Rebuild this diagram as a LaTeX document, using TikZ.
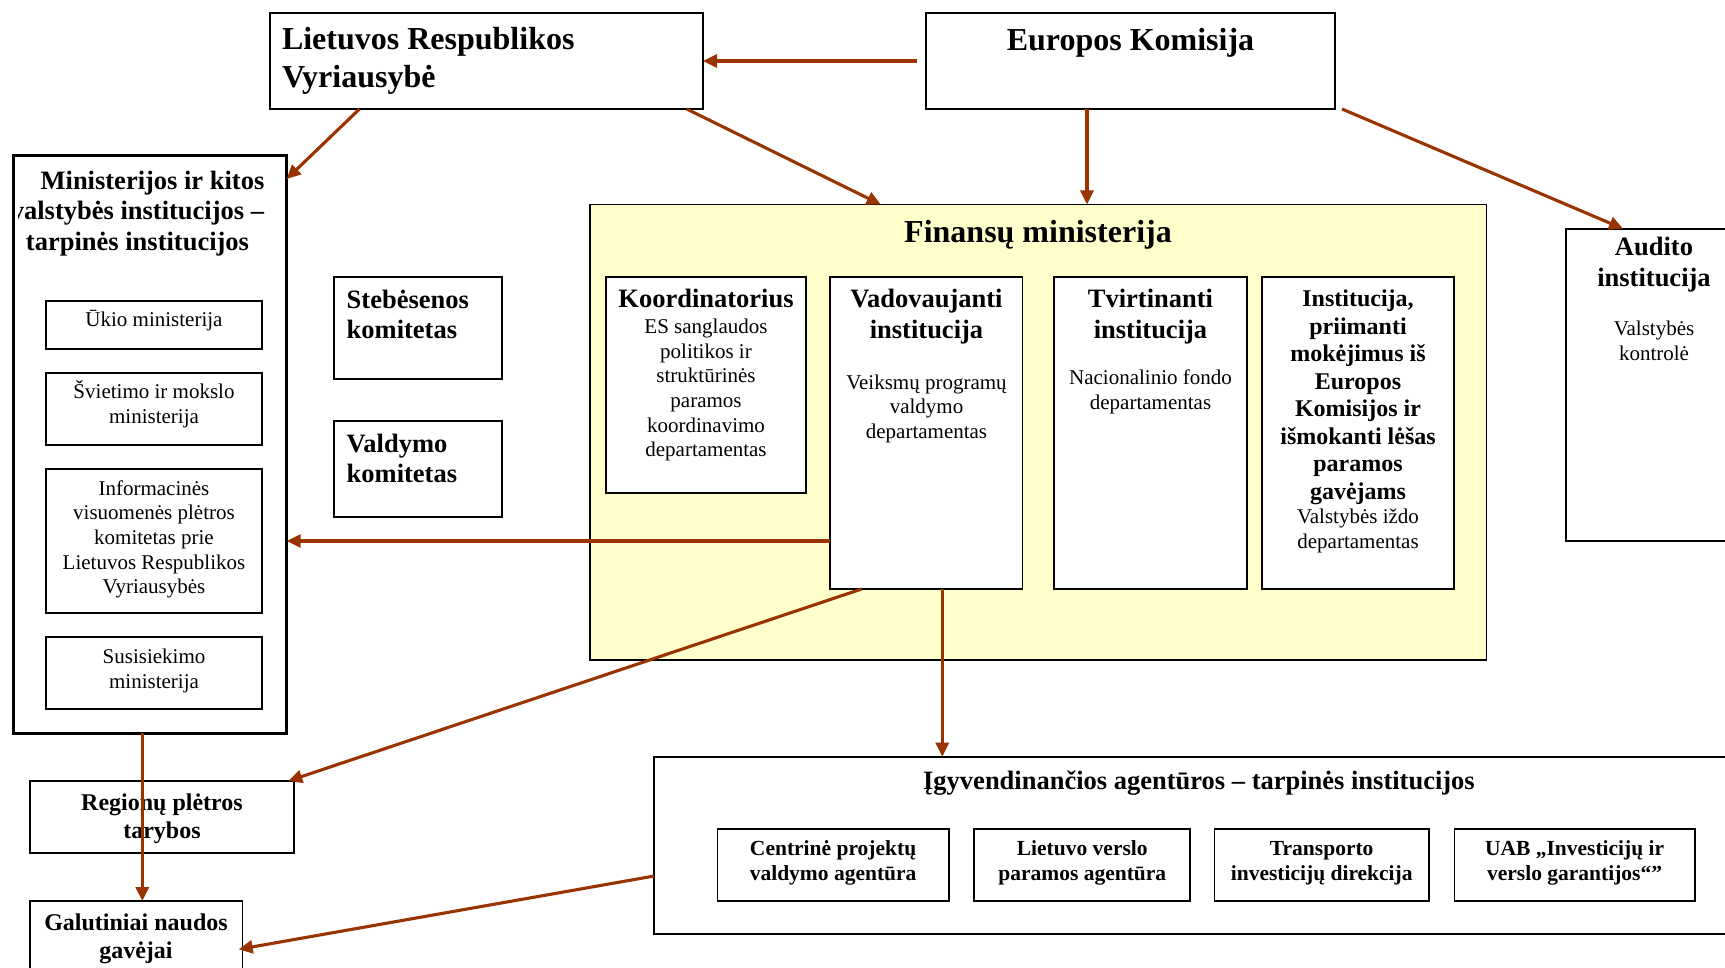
\documentclass[tikz,border=0pt]{standalone}
\usepackage{fontspec}
\setmainfont{Liberation Serif}
\usetikzlibrary{arrows.meta}
\definecolor{arrc}{RGB}{153,51,0}
\definecolor{finfill}{RGB}{255,255,204}
\newcommand{\ctab}[1]{\begin{tabular}[t]{@{}c@{}}#1\end{tabular}}
\newcommand{\ltab}[1]{\begin{tabular}[t]{@{}l@{}}#1\end{tabular}}
\newcommand{\mkbox}[6][]{\node[box,#1,anchor=north west,minimum width={#5-#3},minimum height={#6-#4}] (#2) at (#3,#4) {};}
\tikzset{
  box/.style={draw=black, line width=1.7pt, fill=white, inner sep=0pt, outer sep=0pt},
  txt/.style={inner sep=0pt, outer sep=0pt},
  fbig/.style={font=\bfseries\fontsize{32}{37.5}\selectfont},
  fsub/.style={font=\bfseries\fontsize{26.5}{30.3}\selectfont},
  finst/.style={font=\bfseries\fontsize{24}{27.5}\selectfont},
  fgal/.style={font=\bfseries\fontsize{24}{28.5}\selectfont},
  freg/.style={font=\fontsize{21}{24.7}\selectfont},
  fag/.style={font=\bfseries\fontsize{21.5}{25}\selectfont},
  arr/.style={draw=arrc, line width=3.1pt, -{Triangle[length=14pt,width=13pt]}},
}
\begin{document}
\begin{tikzpicture}[x=1pt,y=-1pt]
\useasboundingbox (0,0) rectangle (1725,968);
\fill[white] (0,0) rectangle (1725,968);
\clip (0,0) rectangle (1725,968);

% boxes
\mkbox{lrv}{270}{13}{703}{109}
\mkbox{ek}{926}{13}{1335}{109}
\mkbox[line width=3pt]{min}{13}{155.7}{286.7}{733}
\mkbox{uk}{45.7}{300.7}{262.3}{349.3}
\mkbox{sv}{45.7}{372.7}{262.3}{444.7}
\mkbox{inf}{45.7}{468.7}{262.3}{612.7}
\mkbox{sus}{45.7}{636.7}{262.3}{708.7}
\mkbox{steb}{334}{277}{502}{379}
\mkbox{vald}{334}{420.7}{502}{516.7}
\mkbox[fill=finfill]{fin}{590}{204.5}{1486.5}{660}
\mkbox{koo}{606}{276.7}{806}{492.7}
\mkbox{vad}{830.3}{277}{1022.6}{589}
\mkbox{tvi}{1054}{277}{1247}{589}
\mkbox{ins}{1262}{277}{1454}{589}
\mkbox{aud}{1566}{228.7}{1743}{540.7}
\mkbox{igy}{654}{756.7}{1744}{934}
\mkbox{agA}{717.5}{828.7}{948.7}{901.3}
\mkbox{agB}{974.3}{828.7}{1190.2}{901.3}
\mkbox{agC}{1214.4}{828.7}{1429}{901.3}
\mkbox{agD}{1454.5}{828.7}{1694.7}{901.3}
\mkbox{reg}{29.8}{781}{293.8}{853.3}
\mkbox{gal}{29.8}{901}{242.4}{985}

% texts
\node[txt,fbig,anchor=base west] (tlrv) at (282,50) {\ltab{Lietuvos Respublikos\\Vyriausybė}};
\node[txt,fbig,anchor=base] (tek) at (1130.5,51) {Europos Komisija};
\begin{scope}
\clip (18,158) rectangle (284,262);
\node[txt,fsub,anchor=base] (tmin) at (137.5,189.5) {\ctab{\hspace*{30pt}Ministerijos ir kitos\\valstybės institucijos –\\tarpinės institucijos}};
\end{scope}
\node[txt,freg,anchor=base] (tuk) at (154,327) {Ūkio ministerija};
\node[txt,freg,anchor=base] (tsv) at (154,398.5) {\ctab{Švietimo ir mokslo\\ministerija}};
\node[txt,freg,anchor=base] (tinf) at (154,495) {\ctab{Informacinės\\visuomenės plėtros\\komitetas prie\\Lietuvos Respublikos\\Vyriausybės}};
\node[txt,freg,anchor=base] (tsus) at (154,663.5) {\ctab{Susisiekimo\\ministerija}};
\node[txt,fsub,anchor=base west] (tsteb) at (346.7,308.5) {\ltab{Stebėsenos\\komitetas}};
\node[txt,fsub,anchor=base west] (tvald) at (346.7,452) {\ltab{Valdymo\\komitetas}};
\node[txt,fbig,anchor=base] (tfin) at (1038,242.5) {Finansų ministerija};
\node[txt,fsub,anchor=base] (tkoo) at (706,308) {Koordinatorius};
\node[txt,freg,anchor=base] (bkoo) at (706,333.5) {\ctab{ES sanglaudos\\politikos ir\\struktūrinės\\paramos\\koordinavimo\\departamentas}};
\node[txt,fsub,anchor=base] (tvad) at (926.5,308) {\ctab{Vadovaujanti\\institucija}};
\node[txt,freg,anchor=base] (bvad) at (926.5,389) {\ctab{Veiksmų programų\\valdymo\\departamentas}};
\node[txt,fsub,anchor=base] (ttvi) at (1150.5,308) {\ctab{Tvirtinanti\\institucija}};
\node[txt,freg,anchor=base] (btvi) at (1150.5,384.5) {\ctab{Nacionalinio fondo\\departamentas}};
\node[txt,finst,anchor=base] (tins) at (1358,307) {\ctab{Institucija,\\priimanti\\mokėjimus iš\\Europos\\Komisijos ir\\išmokanti lėšas\\paramos\\gavėjams}};
\node[txt,freg,anchor=base] (bins) at (1358,523.5) {\ctab{Valstybės iždo\\departamentas}};
\node[txt,fsub,anchor=base] (taud) at (1654,256) {\ctab{Audito\\institucija}};
\node[txt,freg,anchor=base] (baud) at (1654,336) {\ctab{Valstybės\\kontrolė}};
\node[txt,fsub,anchor=base] (tigy) at (1199,789) {Įgyvendinančios agentūros – tarpinės institucijos};
\node[txt,fag,anchor=base] (tagA) at (833.1,855) {\ctab{Centrinė projektų\\valdymo agentūra}};
\node[txt,fag,anchor=base] (tagB) at (1082.25,855) {\ctab{Lietuvo verslo\\paramos agentūra}};
\node[txt,fag,anchor=base] (tagC) at (1321.7,855) {\ctab{Transporto\\investicijų direkcija}};
\node[txt,fag,anchor=base] (tagD) at (1574.6,855) {\ctab{UAB „Investicijų ir\\verslo garantijos“”}};
\node[txt,fgal,anchor=base] (treg) at (162,810) {\ctab{Regionų plėtros\\tarybos}};
\node[txt,fgal,anchor=base] (tgal) at (136,930) {\ctab{Galutiniai naudos\\gavėjai}};

% connectors
\draw[arr] ([xshift=-9pt]ek.west) -- (lrv.east);
\draw[arr] ([xshift=89.5pt]lrv.south west) -- ([yshift=-23.3pt]min.north east);
\draw[arr] ([xshift=416.7pt]lrv.south west) -- ([xshift=290.7pt]fin.north west);
\draw[arr] ([xshift=161pt]ek.south west) coordinate (ekd) -- (ekd |- fin.north);
\draw[arr] ([xshift=7pt]ek.south east) -- ([xshift=57pt]aud.north west);
\draw[arr] ([yshift=-108pt]vad.west) coordinate (vadl) -- (vadl -| min.east);
\draw[arr] ([xshift=31.4pt]vad.south west) -- ([xshift=258.5pt]reg.north west);
\draw[arr] ([xshift=112pt]vad.south west) coordinate (vadd) -- (vadd |- igy.north);
\draw[arr] ([xshift=129.3pt]min.south west) coordinate (mind) -- (mind |- gal.north);
\draw[arr] ([yshift=-30.7pt]igy.west) -- ([yshift=-6.3pt,xshift=-3.7pt]gal.east);
\end{tikzpicture}
\end{document}
